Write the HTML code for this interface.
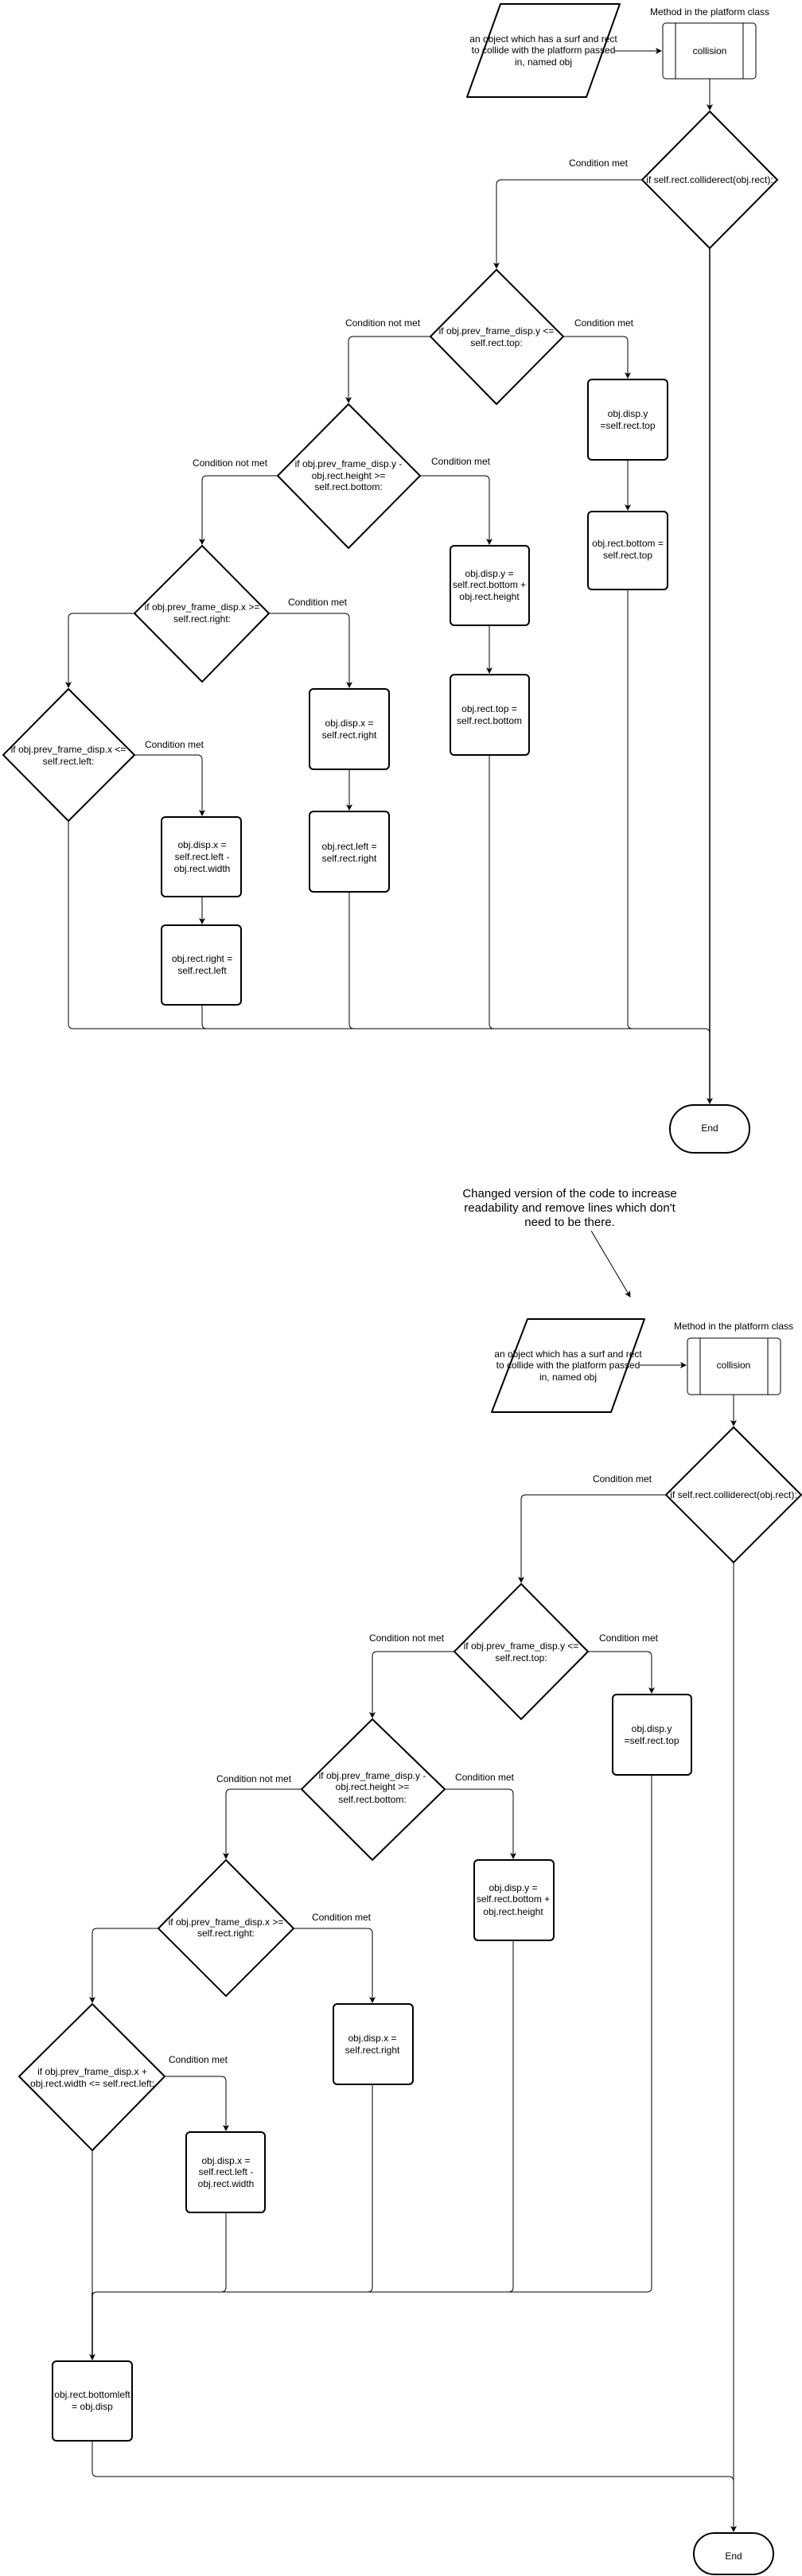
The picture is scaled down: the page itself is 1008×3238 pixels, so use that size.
<!DOCTYPE html>
<html><head><meta charset="utf-8"><style>
html,body{margin:0;padding:0;background:#fff;}
svg{display:block;}
text{font-family:"Liberation Sans",Arial,sans-serif;font-size:12px;fill:#000;text-anchor:middle;}
.s{fill:#fff;stroke:#000;stroke-width:2;}
.c{fill:none;stroke:#000;stroke-width:1;}
</style></head><body>
<svg width="1008" height="3238" viewBox="0 0 1008 3238" xmlns="http://www.w3.org/2000/svg">
<defs><marker id="a" markerWidth="10" markerHeight="10" refX="7" refY="4" orient="auto" markerUnits="userSpaceOnUse"><path d="M0,0 L8,4 L0,8 L2,4 z" fill="#000"/></marker></defs>

<!-- ===== FIRST DIAGRAM ===== -->
<polygon class="s" points="629,5 779,5 737,122 587,122" stroke-linejoin="round"/>
<text x="683" y="53">an object which has a surf and rect</text>
<text x="683" y="67">to collide with the platform passed</text>
<text x="683" y="82">in, named obj</text>
<text x="892" y="19">Method in the platform class</text>
<rect x="833" y="29" width="117" height="70" rx="4" fill="#fff" stroke="#000" stroke-width="1"/>
<line class="c" x1="849" y1="29" x2="849" y2="99"/><line class="c" x1="934" y1="29" x2="934" y2="99"/>
<text x="892" y="68">collision</text>
<line class="c" x1="773" y1="64" x2="831" y2="64" marker-end="url(#a)"/>
<line class="c" x1="892" y1="99" x2="892" y2="138" marker-end="url(#a)"/>

<polygon class="s" points="892,140 977,226 892,312 807,226"/>
<text x="892" y="230">if self.rect.colliderect(obj.rect):</text>
<text x="752" y="209">Condition met</text>
<path class="c" d="M807,226 H630 Q624,226 624,232 V337" marker-end="url(#a)"/>

<polygon class="s" points="624,339 708,423 624,508 541,423"/>
<text x="624" y="420">if obj.prev_frame_disp.y &lt;=</text>
<text x="624" y="435">self.rect.top:</text>
<text x="481" y="410">Condition not met</text>
<text x="759" y="410">Condition met</text>
<path class="c" d="M708,423 H783 Q789,423 789,429 V475" marker-end="url(#a)"/>
<path class="c" d="M541,423 H444 Q438,423 438,429 V506" marker-end="url(#a)"/>

<rect class="s" x="739" y="477" width="100" height="101" rx="5"/>
<text x="789" y="524">obj.disp.y</text><text x="789" y="539">=self.rect.top</text>
<line class="c" x1="789" y1="578" x2="789" y2="641" marker-end="url(#a)"/>
<rect class="s" x="739" y="643" width="100" height="98" rx="5"/>
<text x="789" y="687">obj.rect.bottom =</text><text x="789" y="702">self.rect.top</text>

<polygon class="s" points="438,508 528,598 438,689 349,598"/>
<text x="438" y="587">if obj.prev_frame_disp.y -</text>
<text x="438" y="602">obj.rect.height &gt;=</text>
<text x="438" y="616">self.rect.bottom:</text>
<text x="289" y="586">Condition not met</text>
<text x="579" y="584">Condition met</text>
<path class="c" d="M528,598 H609 Q615,598 615,604 V684" marker-end="url(#a)"/>
<path class="c" d="M349,598 H260 Q254,598 254,604 V684" marker-end="url(#a)"/>

<rect class="s" x="566" y="686" width="99" height="100" rx="5"/>
<text x="615" y="725">obj.disp.y =</text><text x="615" y="739">self.rect.bottom +</text><text x="615" y="754">obj.rect.height</text>
<line class="c" x1="615" y1="786" x2="615" y2="846" marker-end="url(#a)"/>
<rect class="s" x="566" y="848" width="99" height="101" rx="5"/>
<text x="615" y="895">obj.rect.top =</text><text x="615" y="910">self.rect.bottom</text>

<polygon class="s" points="254,686 338,771 254,857 169,771"/>
<text x="254" y="767">if obj.prev_frame_disp.x &gt;=</text>
<text x="254" y="782">self.rect.right:</text>
<text x="399" y="761">Condition met</text>
<path class="c" d="M338,771 H433 Q439,771 439,777 V864" marker-end="url(#a)"/>
<path class="c" d="M169,771 H92 Q86,771 86,777 V864" marker-end="url(#a)"/>

<rect class="s" x="389" y="866" width="100" height="101" rx="5"/>
<text x="439" y="913">obj.disp.x =</text><text x="439" y="928">self.rect.right</text>
<line class="c" x1="439" y1="967" x2="439" y2="1018" marker-end="url(#a)"/>
<rect class="s" x="389" y="1020" width="100" height="101" rx="5"/>
<text x="439" y="1068">obj.rect.left =</text><text x="439" y="1083">self.rect.right</text>

<polygon class="s" points="86,866 169,949 86,1032 4,949"/>
<text x="86" y="946">if obj.prev_frame_disp.x &lt;=</text>
<text x="86" y="961">self.rect.left:</text>
<text x="219" y="940">Condition met</text>
<path class="c" d="M169,949 H248 Q254,949 254,955 V1025" marker-end="url(#a)"/>

<rect class="s" x="203" y="1027" width="100" height="100" rx="5"/>
<text x="254" y="1066">obj.disp.x =</text><text x="254" y="1081">self.rect.left -</text><text x="254" y="1096">obj.rect.width</text>
<line class="c" x1="254" y1="1127" x2="254" y2="1161" marker-end="url(#a)"/>
<rect class="s" x="203" y="1163" width="100" height="100" rx="5"/>
<text x="254" y="1209">obj.rect.right =</text><text x="254" y="1224">self.rect.left</text>

<path class="c" d="M86,1032 V1287 Q86,1293 92,1293 H886 Q892,1293 892,1299"/>
<path class="c" d="M254,1263 V1287 Q254,1293 260,1293"/>
<path class="c" d="M439,1121 V1287 Q439,1293 445,1293"/>
<path class="c" d="M615,949 V1287 Q615,1293 621,1293"/>
<path class="c" d="M789,741 V1287 Q789,1293 795,1293"/>
<line x1="892" y1="312" x2="892" y2="1387" stroke="#000" stroke-width="1.5" marker-end="url(#a)"/>
<rect class="s" x="842" y="1389" width="100" height="60" rx="30"/>
<text x="892" y="1422">End</text>

<!-- ===== SECOND DIAGRAM ===== -->
<text x="716" y="1505" style="font-size:15px">Changed version of the code to increase</text>
<text x="716" y="1523" style="font-size:15px">readability and remove lines which don't</text>
<text x="716" y="1541" style="font-size:15px">need to be there.</text>
<line class="c" x1="743" y1="1547" x2="792" y2="1630" marker-end="url(#a)"/>

<polygon class="s" points="663,1658 810,1658 768,1775 618,1775" stroke-linejoin="round"/>
<text x="714" y="1706">an object which has a surf and rect</text>
<text x="714" y="1720">to collide with the platform passed</text>
<text x="714" y="1735">in, named obj</text>
<text x="922" y="1671">Method in the platform class</text>
<rect x="864" y="1682" width="117" height="71" rx="4" fill="#fff" stroke="#000" stroke-width="1"/>
<line class="c" x1="880" y1="1682" x2="880" y2="1753"/><line class="c" x1="965" y1="1682" x2="965" y2="1753"/>
<text x="922" y="1720">collision</text>
<line class="c" x1="804" y1="1716" x2="862" y2="1716" marker-end="url(#a)"/>
<line class="c" x1="922" y1="1753" x2="922" y2="1792" marker-end="url(#a)"/>

<polygon class="s" points="922,1794 1007,1879 922,1964 837,1879"/>
<text x="922" y="1883">if self.rect.colliderect(obj.rect):</text>
<text x="782" y="1863">Condition met</text>
<path class="c" d="M837,1879 H661 Q655,1879 655,1885 V1989" marker-end="url(#a)"/>

<polygon class="s" points="655,1991 739,2076 655,2161 571,2076"/>
<text x="655" y="2073">if obj.prev_frame_disp.y &lt;=</text>
<text x="655" y="2088">self.rect.top:</text>
<text x="511" y="2063">Condition not met</text>
<text x="790" y="2063">Condition met</text>
<path class="c" d="M739,2076 H813 Q819,2076 819,2082 V2128" marker-end="url(#a)"/>
<path class="c" d="M571,2076 H474 Q468,2076 468,2082 V2159" marker-end="url(#a)"/>

<rect class="s" x="770" y="2130" width="99" height="101" rx="5"/>
<text x="819" y="2177">obj.disp.y</text><text x="819" y="2192">=self.rect.top</text>

<polygon class="s" points="468,2161 559,2249 468,2338 379,2249"/>
<text x="468" y="2236">if obj.prev_frame_disp.y -</text>
<text x="468" y="2250">obj.rect.height &gt;=</text>
<text x="468" y="2266">self.rect.bottom:</text>
<text x="319" y="2240">Condition not met</text>
<text x="609" y="2238">Condition met</text>
<path class="c" d="M559,2249 H639 Q645,2249 645,2255 V2336" marker-end="url(#a)"/>
<path class="c" d="M379,2249 H290 Q284,2249 284,2255 V2336" marker-end="url(#a)"/>

<rect class="s" x="596" y="2338" width="100" height="101" rx="5"/>
<text x="645" y="2377">obj.disp.y =</text><text x="645" y="2391">self.rect.bottom +</text><text x="645" y="2407">obj.rect.height</text>

<polygon class="s" points="284,2338 369,2424 284,2509 199,2424"/>
<text x="284" y="2420">if obj.prev_frame_disp.x &gt;=</text>
<text x="284" y="2434">self.rect.right:</text>
<text x="429" y="2414">Condition met</text>
<path class="c" d="M369,2424 H462 Q468,2424 468,2430 V2517" marker-end="url(#a)"/>
<path class="c" d="M199,2424 H122 Q116,2424 116,2430 V2517" marker-end="url(#a)"/>

<rect class="s" x="419" y="2519" width="100" height="101" rx="5"/>
<text x="468" y="2566">obj.disp.x =</text><text x="468" y="2581">self.rect.right</text>

<polygon class="s" points="116,2519 207,2610 116,2703 24,2610"/>
<text x="116" y="2608">if obj.prev_frame_disp.x +</text>
<text x="116" y="2623">obj.rect.width &lt;= self.rect.left:</text>
<text x="249" y="2593">Condition met</text>
<path class="c" d="M207,2610 H278 Q284,2610 284,2616 V2678" marker-end="url(#a)"/>

<rect class="s" x="234" y="2680" width="99" height="101" rx="5"/>
<text x="284" y="2720">obj.disp.x =</text><text x="284" y="2734">self.rect.left -</text><text x="284" y="2749">obj.rect.width</text>

<path class="c" d="M116,2703 V2881"/>
<path class="c" d="M284,2781 V2875 Q284,2881 278,2881"/>
<path class="c" d="M468,2620 V2875 Q468,2881 462,2881"/>
<path class="c" d="M645,2439 V2875 Q645,2881 639,2881"/>
<path class="c" d="M819,2231 V2875 Q819,2881 813,2881 H122 Q116,2881 116,2887"/>
<line x1="116" y1="2881" x2="116" y2="2966" stroke="#000" stroke-width="1.5" marker-end="url(#a)"/>

<rect class="s" x="66" y="2968" width="100" height="100" rx="5"/>
<text x="116" y="3014">obj.rect.bottomleft</text><text x="116" y="3029">= obj.disp</text>
<path class="c" d="M116,3068 V3107 Q116,3113 122,3113 H916 Q922,3113 922,3119"/>
<line class="c" x1="922" y1="1964" x2="922" y2="3182" marker-end="url(#a)"/>
<rect class="s" x="872" y="3184" width="100" height="52" rx="26"/>
<text x="922" y="3217">End</text>
</svg>
</body></html>
